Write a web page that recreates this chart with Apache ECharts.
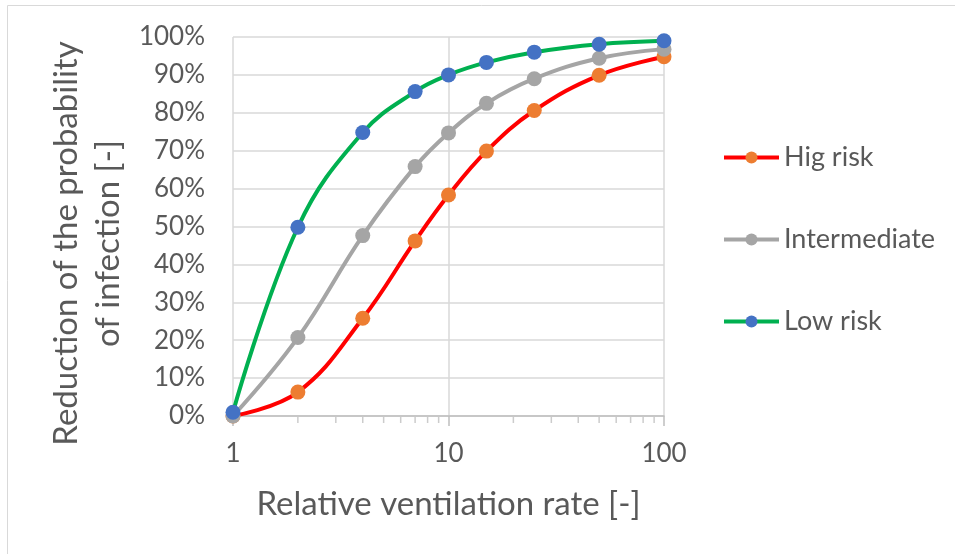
<!DOCTYPE html>
<html>
<head>
<meta charset="utf-8">
<script src="https://cdn.jsdelivr.net/npm/echarts@6/dist/echarts.min.js"></script>
<style>
  html, body { margin: 0; padding: 0; background: #fff; }
  #chart { width: 955px; height: 554px; }
</style>
</head>
<body>
<div id="chart"></div>
<script>
// relative ventilation rate and reduction of infection probability (%)
var rates = [1, 2, 4, 7, 10, 15, 25, 50, 100];
var highRisk = [0, 6.3, 25.8, 46.2, 58.3, 69.9, 80.6, 89.9, 94.8];
var intermediate = [0, 20.7, 47.6, 65.8, 74.7, 82.5, 89.0, 94.4, 96.8];
var lowRisk = [1, 49.8, 74.8, 85.6, 90.0, 93.3, 96.0, 98.1, 99.0];
var minorTicks = [2, 3, 4, 5, 6, 7, 8, 9, 20, 30, 40, 50, 60, 70, 80, 90];

function pairs(ys) {
  return rates.map(function (x, i) { return [x, ys[i]]; });
}

var textColor = "#595959";
var font = "Lato";

var chart = echarts.init(document.getElementById("chart"));
var option = {
  animation: false,
  textStyle: {fontFamily: font},
  graphic: [{
    type: "rect",
    shape: {x: 7.5, y: 5.5, width: 1200, height: 1200},
    style: {fill: "none", stroke: "#d9d9d9", lineWidth: 1},
    z: -10
  }],
  grid: {left: 233, right: 291, top: 37, bottom: 138},
  legend: {
    orient: "vertical",
    left: 717,
    top: 139,
    itemGap: 55,
    itemWidth: 55,
    itemHeight: 15,
    lineStyle: {width: 4},
    textStyle: {fontFamily: font, fontSize: 27, color: textColor},
    data: ["Hig risk", "Intermediate", "Low risk"]
  },
  xAxis: {
    type: "log",
    logBase: 10,
    min: 1,
    max: 100,
    name: "Relative ventilation rate [-]",
    nameLocation: "middle",
    nameGap: 72,
    nameTextStyle: {fontFamily: font, fontSize: 33, color: textColor},
    axisLine: {lineStyle: {color: "#bfbfbf", width: 1.5}},
    axisTick: {show: true, length: 10, lineStyle: {color: "#bfbfbf", width: 1.5}},
    axisLabel: {fontFamily: font, fontSize: 26, color: textColor, margin: 25},
    splitLine: {show: true, lineStyle: {color: "#d9d9d9", width: 1.5}}
  },
  yAxis: {
    type: "value",
    min: 0,
    max: 100,
    interval: 10,
    name: "Reduction of the probability\nof infection [-]",
    nameLocation: "middle",
    nameRotate: 90,
    nameGap: 104,
    nameTextStyle: {fontFamily: font, fontSize: 33, color: textColor, lineHeight: 42, padding: [0, 34, 0, 0]},
    axisLine: {show: false},
    axisTick: {show: false},
    axisLabel: {fontFamily: font, fontSize: 26, color: textColor, margin: 28, formatter: "{value}%"},
    splitLine: {lineStyle: {color: "#d9d9d9", width: 1.5}}
  },
  series: [{
    name: "minor",
    type: "scatter",
    data: minorTicks.map(function (x) { return [x, 0]; }),
    symbol: "rect",
    symbolSize: [1.5, 6],
    symbolOffset: [0, 4],
    itemStyle: {color: "#bfbfbf"},
    silent: true,
    clip: false,
    z: 1
  }, {
    name: "Hig risk",
    type: "line",
    data: pairs(highRisk),
    smooth: 0.4,
    symbol: "circle",
    symbolSize: 15,
    lineStyle: {color: "#ff0000", width: 4},
    itemStyle: {color: "#ed7d31"},
    z: 2
  }, {
    name: "Intermediate",
    type: "line",
    data: pairs(intermediate),
    smooth: 0.4,
    symbol: "circle",
    symbolSize: 15,
    lineStyle: {color: "#a5a5a5", width: 4},
    itemStyle: {color: "#a5a5a5"},
    z: 3
  }, {
    name: "Low risk",
    type: "line",
    data: pairs(lowRisk),
    smooth: 0.4,
    symbol: "circle",
    symbolSize: 15,
    lineStyle: {color: "#00b050", width: 4},
    itemStyle: {color: "#4472c4"},
    z: 4
  }]
};
chart.setOption(option);
</script>
</body>
</html>
